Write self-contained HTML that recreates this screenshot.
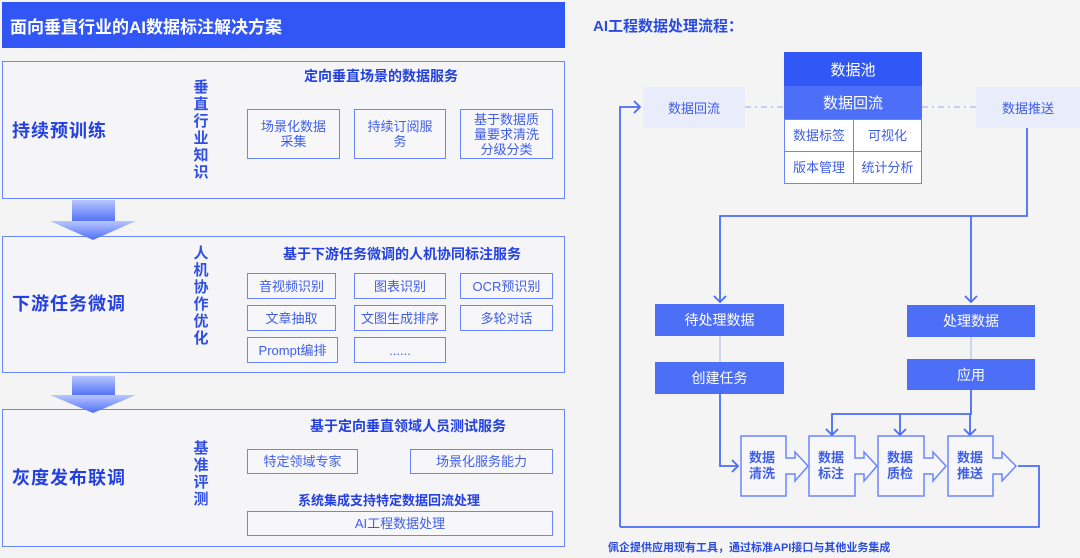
<!DOCTYPE html>
<html><head><meta charset="utf-8"><style>
*{margin:0;padding:0;box-sizing:border-box}
body{width:1080px;height:558px;background:#f4f4f5;position:relative;overflow:hidden;font-family:"Liberation Sans","Noto Sans CJK SC",sans-serif;color:#3a5ae8}
.a{position:absolute}
.panel{position:absolute;left:2px;width:563px;border:1.5px solid #6a86ff;background:#f5f5f7}
.bx{position:absolute;border:1.5px solid #6a86ff;background:#f7f7fa;display:flex;align-items:center;justify-content:center;text-align:center;font-size:13px;line-height:15px;color:#3f5ee8}
.big{position:absolute;left:12px;font-size:18px;font-weight:bold;color:#2440e0;letter-spacing:1px}
.vt{position:absolute;width:18px;font-size:15px;font-weight:bold;line-height:17px;color:#2f4fe6;text-align:center}
.tt{position:absolute;font-size:14px;font-weight:bold;color:#2440e0;white-space:nowrap;transform:translateX(-50%)}
.fb{position:absolute;display:flex;align-items:center;justify-content:center;color:#fff;font-size:15px}
</style></head><body>
<div class="a" style="left:2px;top:2px;width:563px;height:46px;background:#3256f6"></div>
<div class="a" style="left:10px;top:13px;font-size:17px;font-weight:bold;color:#fff">面向垂直行业的AI数据标注解决方案</div>

<div class="panel" style="top:61px;height:138px"></div>
<div class="big" style="top:117px">持续预训练</div>
<div class="vt" style="left:192px;top:79px">垂直行业知识</div>
<div class="tt" style="left:381px;top:66px">定向垂直场景的数据服务</div>
<div class="bx" style="left:247px;top:109px;width:93px;height:50px">场景化数据<br>采集</div>
<div class="bx" style="left:354px;top:109px;width:92px;height:50px">持续订阅服<br>务</div>
<div class="bx" style="left:460px;top:109px;width:93px;height:50px">基于数据质<br>量要求清洗<br>分级分类</div>

<div class="panel" style="top:236px;height:137px"></div>
<div class="big" style="top:290px">下游任务微调</div>
<div class="vt" style="left:192px;top:245px">人机协作优化</div>
<div class="tt" style="left:402px;top:244px">基于下游任务微调的人机协同标注服务</div>
<div class="bx" style="left:247px;top:273px;width:89px;height:26px">音视频识别</div>
<div class="bx" style="left:354px;top:273px;width:92px;height:26px">图表识别</div>
<div class="bx" style="left:460px;top:273px;width:93px;height:26px">OCR预识别</div>
<div class="bx" style="left:247px;top:305px;width:89px;height:26px">文章抽取</div>
<div class="bx" style="left:354px;top:305px;width:92px;height:26px">文图生成排序</div>
<div class="bx" style="left:460px;top:305px;width:93px;height:26px">多轮对话</div>
<div class="bx" style="left:247px;top:337px;width:91px;height:26px">Prompt编排</div>
<div class="bx" style="left:354px;top:337px;width:92px;height:26px">......</div>

<div class="panel" style="top:409px;height:138px"></div>
<div class="big" style="top:464px">灰度发布联调</div>
<div class="vt" style="left:192px;top:440px">基准评测</div>
<div class="tt" style="left:408px;top:416px">基于定向垂直领域人员测试服务</div>
<div class="bx" style="left:247px;top:449px;width:111px;height:25px">特定领域专家</div>
<div class="bx" style="left:410px;top:449px;width:143px;height:25px">场景化服务能力</div>
<div class="tt" style="left:389px;top:490px;font-size:13px">系统集成支持特定数据回流处理</div>
<div class="bx" style="left:247px;top:511px;width:306px;height:25px">AI工程数据处理</div>

<svg class="a" style="left:0;top:0" width="1080" height="558">
<defs><linearGradient id="g" x1="0" y1="0" x2="0" y2="1"><stop offset="0" stop-color="#b9c6ff"/><stop offset="1" stop-color="#4f6ff7"/></linearGradient></defs>
<g fill="url(#g)">
<rect x="72" y="200" width="43" height="22"/><polygon points="50,221 136,221 93,240"/>
<rect x="72" y="376" width="43" height="20"/><polygon points="50,395 136,395 93,413"/>
</g>
<g fill="none" stroke="#4a6cf7" stroke-width="1.8">
<polyline points="620,527 620,107 640,107"/><polyline points="634,101 640,107 634,113"/>
<polyline points="620,527 1039,527 1039,466 1018,466"/>
<polyline points="1027,128 1027,216 720,216 720,302"/>
<polyline points="714,296 720,302 726,296"/>
<polyline points="971,216 971,302"/><polyline points="965,296 971,302 977,296"/>
<polyline points="971,390 971,414 832,414 832,435"/>
<polyline points="826,429 832,435 838,429"/>
<polyline points="900,414 900,435"/><polyline points="894,429 900,435 906,429"/>
<polyline points="970,414 970,435"/><polyline points="964,429 970,435 976,429"/>
<polyline points="720,394 720,466 738,466"/><polyline points="732,460 738,466 732,472"/>
</g>
<g fill="#f7f7fa" stroke="#6a86ff" stroke-width="1.5">
<polygon points="741,436 786,436 786,458 795,458 795,452 808,466 795,481 795,474 786,474 786,496 741,496"/>
<polygon points="809,436 855,436 855,458 864,458 864,452 877,466 864,481 864,474 855,474 855,496 809,496"/>
<polygon points="878,436 924,436 924,458 933,458 933,452 946,466 933,481 933,474 924,474 924,496 878,496"/>
<polygon points="948,436 993,436 993,458 1002,458 1002,452 1016,466 1002,481 1002,474 993,474 993,496 948,496"/>
</g>
<g stroke="#aab8f0" stroke-width="1.2" stroke-dasharray="6,4,2,4"><line x1="745" y1="107" x2="784" y2="107"/><line x1="922" y1="107" x2="976" y2="107"/></g>
<g stroke="#aab8f0" stroke-width="1"><line x1="720" y1="336" x2="720" y2="362"/><line x1="971" y1="337" x2="971" y2="359"/></g>
</svg>
<div class="a" style="left:593px;top:15px;font-size:15px;font-weight:bold;color:#2a4be0">AI工程数据处理流程：</div>
<div class="fb" style="left:784px;top:52px;width:138px;height:34px;background:#3158f6">数据池</div>
<div class="fb" style="left:784px;top:86px;width:138px;height:33px;background:#4d6ff7">数据回流</div>
<div class="bx" style="left:784px;top:119px;width:70px;height:33px;background:#fff">数据标签</div>
<div class="bx" style="left:853px;top:119px;width:69px;height:33px;background:#fff">可视化</div>
<div class="bx" style="left:784px;top:151px;width:70px;height:33px;background:#fff">版本管理</div>
<div class="bx" style="left:853px;top:151px;width:69px;height:33px;background:#fff">统计分析</div>
<div class="fb" style="left:643px;top:87px;width:102px;height:41px;background:#e8ecfb;color:#3f5ee8;font-size:13px">数据回流</div>
<div class="fb" style="left:976px;top:87px;width:104px;height:41px;background:#e8ecfb;color:#3f5ee8;font-size:13px">数据推送</div>
<div class="fb" style="left:655px;top:304px;width:129px;height:32px;background:#4d6ff7;font-size:14px">待处理数据</div>
<div class="fb" style="left:655px;top:362px;width:129px;height:32px;background:#4d6ff7;font-size:14px">创建任务</div>
<div class="fb" style="left:907px;top:305px;width:128px;height:32px;background:#4d6ff7;font-size:14px">处理数据</div>
<div class="fb" style="left:907px;top:359px;width:128px;height:31px;background:#4d6ff7;font-size:14px">应用</div>
<div class="a" style="left:749px;top:450px;font-size:13px;font-weight:bold;line-height:16px;color:#3f5ee8">数据<br>清洗</div>
<div class="a" style="left:818px;top:450px;font-size:13px;font-weight:bold;line-height:16px;color:#3f5ee8">数据<br>标注</div>
<div class="a" style="left:887px;top:450px;font-size:13px;font-weight:bold;line-height:16px;color:#3f5ee8">数据<br>质检</div>
<div class="a" style="left:957px;top:450px;font-size:13px;font-weight:bold;line-height:16px;color:#3f5ee8">数据<br>推送</div>
<div class="a" style="left:608px;top:539px;font-size:11px;font-weight:bold;color:#2a4be0">佩企提供应用现有工具，通过标准API接口与其他业务集成</div>
</body></html>
